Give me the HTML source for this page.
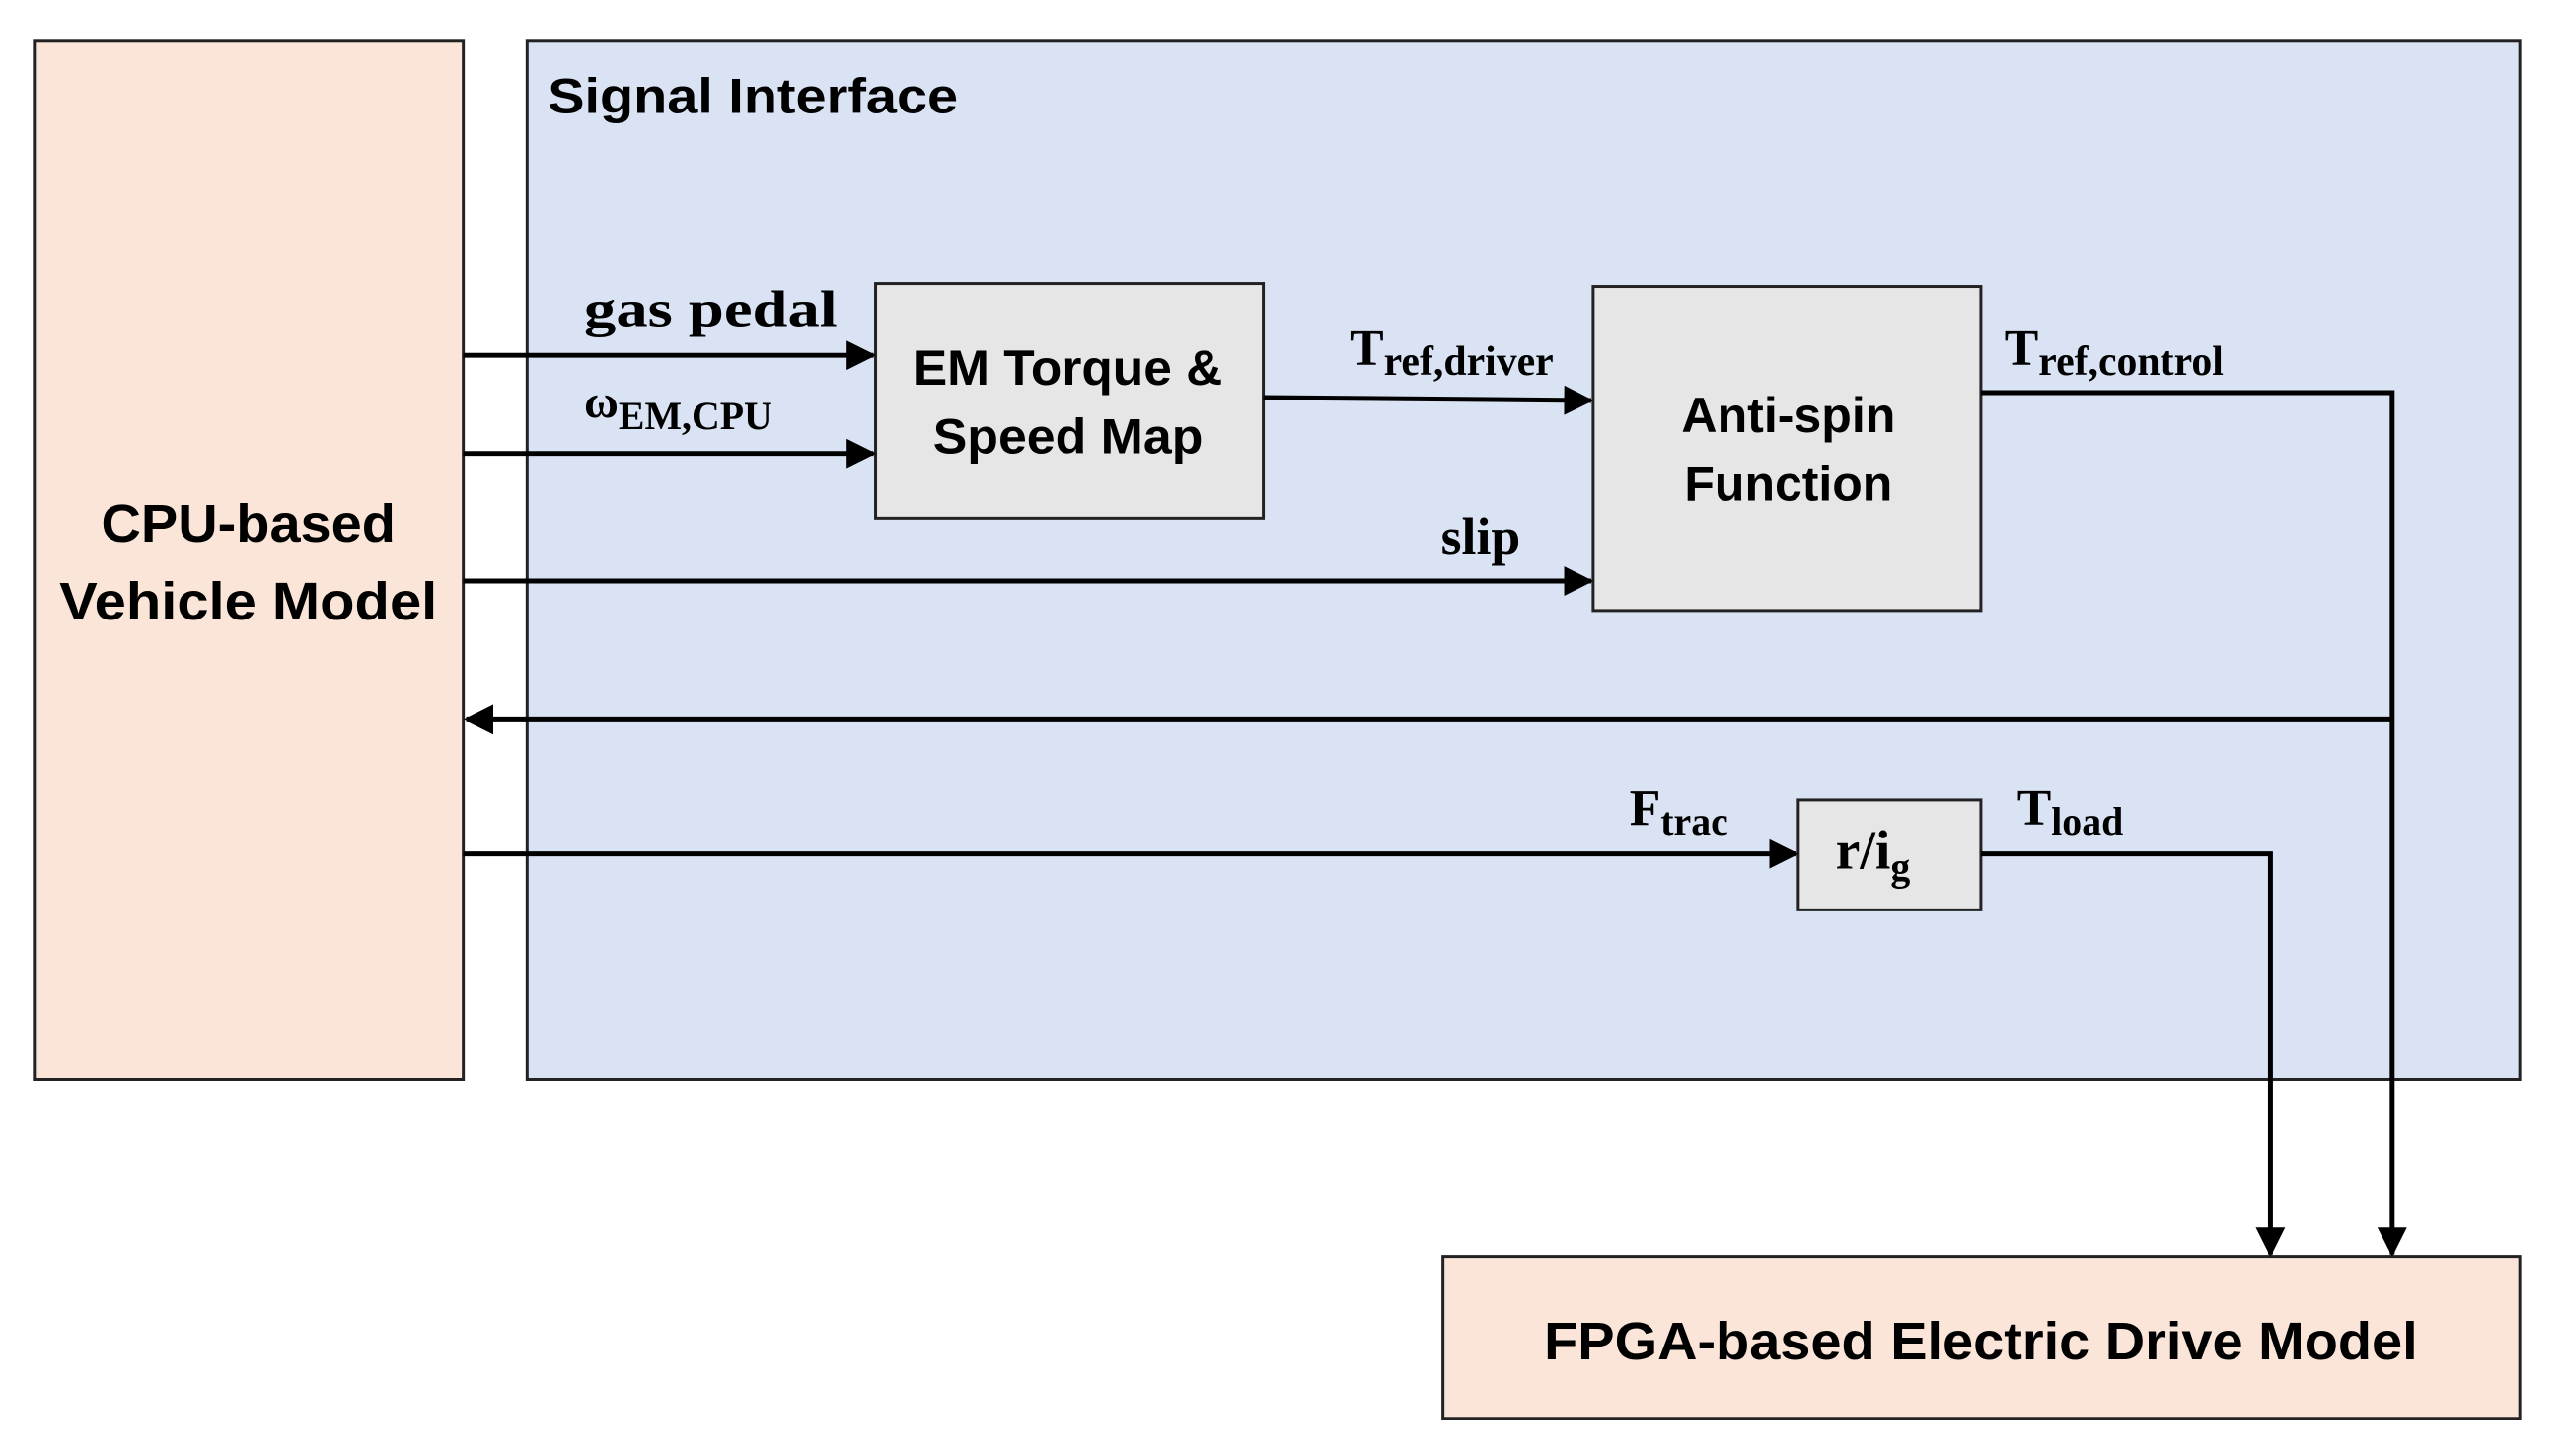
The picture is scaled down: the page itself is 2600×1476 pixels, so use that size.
<!DOCTYPE html>
<html><head><meta charset="utf-8"><style>html,body{margin:0;padding:0;background:#fff}svg{display:block}</style></head>
<body>
<svg width="2600" height="1476" viewBox="0 0 2600 1476" xmlns="http://www.w3.org/2000/svg">
<defs>
<marker id="ah" markerWidth="6" markerHeight="6" refX="5.5" refY="3" orient="auto" markerUnits="strokeWidth"><path d="M0,0 L6,3 L0,6 z" fill="#000"/></marker>
</defs>
<g transform="scale(0.995)">
<rect x="35" y="42" width="437" height="1058" fill="#FAE5D8" stroke="#222" stroke-width="3"/>
<rect x="537" y="42" width="2030" height="1058" fill="#DAE3F3" stroke="#222" stroke-width="3"/>
<rect x="892" y="289" width="395" height="239" fill="#E6E6E6" stroke="#222" stroke-width="3"/>
<rect x="1623" y="292" width="395" height="330" fill="#E6E6E6" stroke="#222" stroke-width="3"/>
<rect x="1832" y="815" width="186" height="112" fill="#E6E6E6" stroke="#222" stroke-width="3"/>
<rect x="1470" y="1280" width="1097" height="165" fill="#FAE5D8" stroke="#222" stroke-width="3"/>

<g stroke="#000" stroke-width="5" fill="none">
<line x1="472" y1="362" x2="890" y2="362" marker-end="url(#ah)"/>
<line x1="472" y1="462" x2="890" y2="462" marker-end="url(#ah)"/>
<line x1="472" y1="592" x2="1621" y2="592" marker-end="url(#ah)"/>
<line x1="1287" y1="405" x2="1621" y2="408" marker-end="url(#ah)"/>
<polyline points="2018,400 2437,400 2437,1278" marker-end="url(#ah)"/>
<line x1="2437" y1="733" x2="475" y2="733" marker-end="url(#ah)"/>
<line x1="472" y1="870" x2="1830" y2="870" marker-end="url(#ah)"/>
<polyline points="2018,870 2313,870 2313,1278" marker-end="url(#ah)"/>
</g>

<g font-family="Liberation Sans, sans-serif" font-weight="bold" fill="#000" text-anchor="middle">
<text x="558" y="115" font-size="50" text-anchor="start" textLength="418" lengthAdjust="spacingAndGlyphs">Signal Interface</text>
<text x="253" y="552" font-size="54" textLength="300" lengthAdjust="spacingAndGlyphs">CPU-based</text>
<text x="253" y="631" font-size="54" textLength="385" lengthAdjust="spacingAndGlyphs">Vehicle Model</text>
<text x="1088" y="392" font-size="50" textLength="315" lengthAdjust="spacingAndGlyphs">EM Torque &amp;</text>
<text x="1088" y="462" font-size="50" textLength="275" lengthAdjust="spacingAndGlyphs">Speed Map</text>
<text x="1822" y="440" font-size="50" textLength="218" lengthAdjust="spacingAndGlyphs">Anti-spin</text>
<text x="1822" y="510" font-size="50" textLength="212" lengthAdjust="spacingAndGlyphs">Function</text>
<text x="2018" y="1385" font-size="54" textLength="890" lengthAdjust="spacingAndGlyphs">FPGA-based Electric Drive Model</text>
</g>

<g font-family="Liberation Serif, serif" font-weight="bold" fill="#000">
<text x="595" y="332" font-size="52" textLength="258" lengthAdjust="spacingAndGlyphs">gas pedal</text>
<text x="595" y="425" font-size="48">ω<tspan font-size="40" dy="12">EM,CPU</tspan></text>
<text x="1375" y="372" font-size="52">T<tspan font-size="42" dy="10">ref,driver</tspan></text>
<text x="2042" y="372" font-size="52">T<tspan font-size="42" dy="10">ref,control</tspan></text>
<text x="1468" y="565" font-size="54">slip</text>
<text x="1660" y="840" font-size="52">F<tspan font-size="40" dy="10">trac</tspan></text>
<text x="2055" y="840" font-size="52">T<tspan font-size="40" dy="10">load</tspan></text>
<text x="1870" y="885" font-size="56">r/i<tspan font-size="40" dy="12">g</tspan></text>
</g>
</g>
</svg>
</body></html>
